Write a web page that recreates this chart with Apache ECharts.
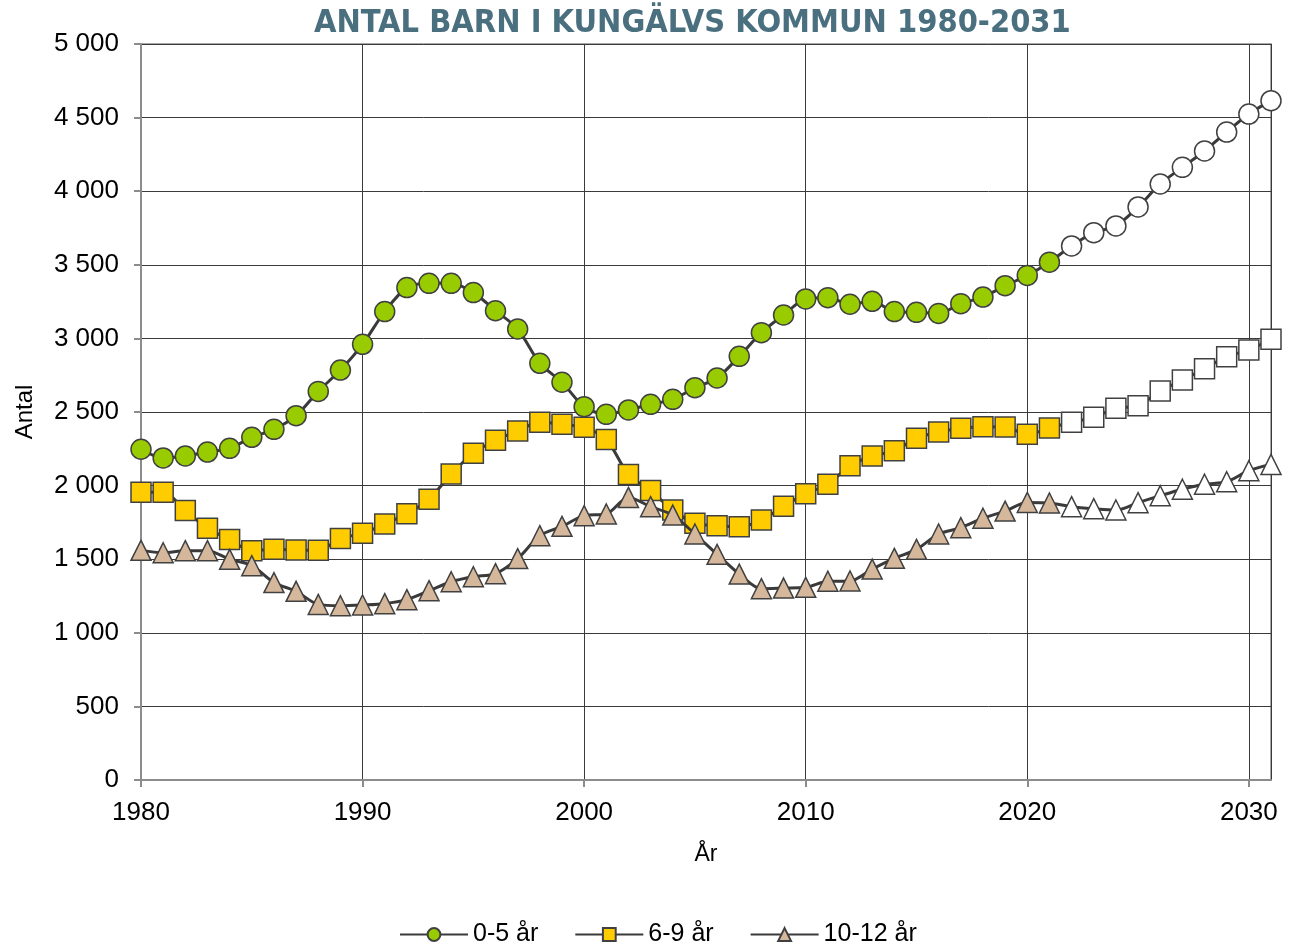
<!DOCTYPE html>
<html>
<head>
<meta charset="utf-8">
<script src="https://cdn.jsdelivr.net/npm/echarts@6/dist/echarts.min.js"></script>
<style>
  html, body { margin: 0; padding: 0; background: #fff; }
  #myChart { width: 1297px; height: 947px; }
</style>
</head>
<body>
<div id="myChart"></div>
<script>
// år 1980-2031, prognos från 2022
const years = [];
for (let y = 1980; y <= 2031; y++) years.push(y);
const forecastFrom = 2022;

const age0to5 = [
  2247, 2188, 2201, 2228, 2253, 2328, 2382, 2475, 2640, 2785,
  2960, 3182, 3345, 3374, 3374, 3311, 3188, 3064, 2831, 2702,
  2536, 2484, 2514, 2552, 2586, 2665, 2731, 2878, 3039, 3159,
  3268, 3277, 3232, 3252, 3182, 3177, 3170, 3236, 3281, 3358,
  3428, 3518, 3628, 3718, 3764, 3893, 4049, 4162, 4273, 4402,
  4524, 4615
];
const age6to9 = [
  1954, 1954, 1830, 1710, 1633, 1558, 1567, 1562, 1560, 1640,
  1676, 1739, 1809, 1907, 2079, 2219, 2308, 2371, 2430, 2416,
  2396, 2314, 2075, 1966, 1834, 1744, 1728, 1721, 1766, 1859,
  1945, 2009, 2135, 2201, 2237, 2321, 2364, 2389, 2400, 2398,
  2348, 2391, 2430, 2464, 2525, 2543, 2643, 2717, 2794, 2876,
  2921, 2994
];
const age10to12 = [
  1560, 1544, 1558, 1558, 1499, 1456, 1341, 1282, 1193, 1184,
  1189, 1198, 1225, 1286, 1347, 1381, 1402, 1504, 1660, 1723,
  1796, 1807, 1920, 1857, 1800, 1671, 1533, 1399, 1300, 1304,
  1309, 1350, 1352, 1433, 1506, 1567, 1671, 1714, 1778, 1827,
  1886, 1882, 1857, 1843, 1834, 1884, 1931, 1975, 2009, 2026,
  2101, 2144
];

const seriesNames = ['0-5 år', '6-9 år', '10-12 år'];
const seriesColors = ['#99cc00', '#ffcc00', '#d5b89c'];
const seriesSymbols = ['circle', 'rect', 'triangle'];

function fmt(v) {
  return String(v).replace(/\B(?=(\d{3})+(?!\d))/g, ' ');
}

function buildData(values) {
  return values.map((v, i) => {
    if (years[i] >= forecastFrom) {
      return { value: [years[i], v], itemStyle: { color: '#ffffff' } };
    }
    return [years[i], v];
  });
}

let myChart = echarts.init(document.getElementById('myChart'));
let option = {
  animation: false,
  textStyle: { fontFamily: '"Liberation Sans", Arial, sans-serif' },
  title: {
    text: 'ANTAL BARN I KUNGÄLVS KOMMUN 1980-2031',
    left: 309,
    top: 3,
    textStyle: {
      fontFamily: '"Liberation Sans Narrow", "DejaVu Sans Condensed", sans-serif',
      fontWeight: 'bold',
      fontSize: 32.3,
      color: '#4a7080',
    },
  },
  grid: {
    left: 141,
    right: 26,
    top: 44,
    bottom: 167,
    show: true,
    borderColor: '#8c8c8c',
    borderWidth: 1.5,
  },
  legend: {
    top: 917,
    left: 394,
    itemWidth: 68,
    itemHeight: 16,
    itemGap: 36,
    textStyle: { fontSize: 25, color: '#000' },
    data: seriesNames,
  },
  xAxis: {
    type: 'value',
    min: 1980,
    max: 2031,
    interval: 10,
    name: 'År',
    nameLocation: 'middle',
    nameGap: 63,
    nameTextStyle: { fontSize: 23, color: '#000' },
    axisLine: { show: true, onZero: false, lineStyle: { color: '#8c8c8c', width: 2 } },
    axisTick: { show: true, length: 7, lineStyle: { color: '#8c8c8c', width: 2 } },
    axisLabel: { fontSize: 26, color: '#000', margin: 20, formatter: v => String(v) },
    splitLine: { show: true, lineStyle: { color: '#3a3a3a', width: 1 } },
  },
  yAxis: {
    type: 'value',
    min: 0,
    max: 5000,
    interval: 500,
    name: 'Antal',
    nameLocation: 'middle',
    nameGap: 104,
    nameTextStyle: { fontSize: 24, color: '#000' },
    axisLine: { show: true, lineStyle: { color: '#8c8c8c', width: 2 } },
    axisTick: { show: true, length: 7, lineStyle: { color: '#8c8c8c', width: 2 } },
    axisLabel: { fontSize: 26, color: '#000', margin: 22, formatter: v => fmt(v) },
    splitLine: { show: true, lineStyle: { color: '#3a3a3a', width: 1 } },
  },
  series: [age0to5, age6to9, age10to12].map((vals, k) => ({
    name: seriesNames[k],
    type: 'line',
    data: buildData(vals),
    smooth: 0.3,
    symbol: seriesSymbols[k],
    symbolSize: 20,
    lineStyle: { color: '#3a3a3a', width: 3 },
    itemStyle: { color: seriesColors[k], borderColor: '#404040', borderWidth: 1.5 },
    emphasis: { disabled: true },
    z: 3 + k,
  })),
};
myChart.setOption(option);
</script>
</body>
</html>
